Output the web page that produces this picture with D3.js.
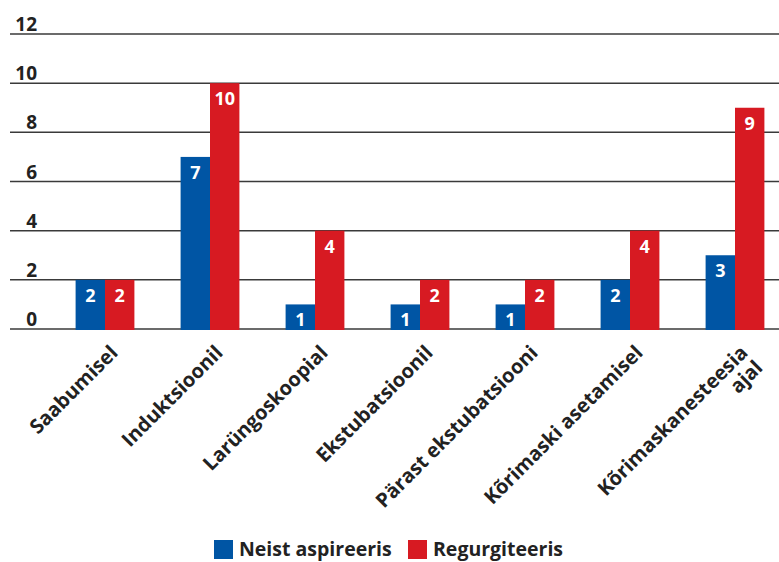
<!DOCTYPE html>
<html><head><meta charset="utf-8">
<script src="https://cdn.jsdelivr.net/npm/d3@7"></script>
<style>
html,body{margin:0;padding:0;background:#fff;}
svg{display:block;font-family:"Open Sans","Noto Sans",sans-serif;}
</style></head>
<body>
<script>
const categories = ["Saabumisel","Induktsioonil","Larüngoskoopial","Ekstubatsioonil","Pärast ekstubatsiooni","Kõrimaski asetamisel","Kõrimaskanesteesia ajal"];
const categoryLines = [["Saabumisel"],["Induktsioonil"],["Larüngoskoopial"],["Ekstubatsioonil"],["Pärast ekstubatsiooni"],["Kõrimaski asetamisel"],["Kõrimaskanesteesia","ajal"]];
const seriesNames = ["Neist aspireeris","Regurgiteeris"];
const aspireeris = [2,7,1,1,1,2,3];
const regurgiteeris = [2,10,4,2,2,4,9];
const yTicks = [0,2,4,6,8,10,12];
const colors = ["#0055a4","#d71a22"];

const W=779,H=562;
const svg=d3.select("body").append("svg").attr("width",W).attr("height",H);
const y=d3.scaleLinear().domain([0,12]).range([329,34]);
const x=d3.scaleBand().domain(categories).range([52.5,787.5]).paddingInner(0.44).paddingOuter(0.22);
const xs=d3.scaleBand().domain(seriesNames).range([0,x.bandwidth()]);

// gridlines
svg.append("g").selectAll("line").data(yTicks).join("line")
  .attr("x1",10).attr("x2",W).attr("y1",d=>y(d)).attr("y2",d=>y(d))
  .attr("stroke","#3a3a3a").attr("stroke-width",1.5);
svg.append("g").selectAll("text").data(yTicks).join("text")
  .attr("x",37).attr("y",d=>y(d)-3).attr("text-anchor","end")
  .attr("font-size",19).attr("font-weight",700).attr("fill","#222").text(d=>d);

const data=categories.map((c,i)=>({c,vals:[aspireeris[i],regurgiteeris[i]]}));
const g=svg.append("g").selectAll("g").data(data).join("g").attr("transform",d=>`translate(${x(d.c)},0)`);
g.selectAll("rect").data(d=>d.vals.map((v,j)=>({v,s:seriesNames[j],j}))).join("rect")
  .attr("x",d=>xs(d.s)).attr("width",xs.bandwidth()).attr("y",d=>y(d.v)).attr("height",d=>y(0)+1-y(d.v))
  .attr("fill",d=>colors[d.j]);
g.selectAll("text").data(d=>d.vals.map((v,j)=>({v,s:seriesNames[j],j}))).join("text")
  .attr("x",d=>xs(d.s)+xs.bandwidth()/2).attr("y",d=>y(d.v)+22).attr("text-anchor","middle")
  .attr("font-size",18).attr("font-weight",700).attr("fill","#fff").text(d=>d.v);

// x labels
const xl=svg.append("g").selectAll("text").data(categories).join("text")
  .attr("transform",(d)=>`translate(${x(d)+x.bandwidth()/2+14},${354}) rotate(-45)`)
  .attr("text-anchor","end").attr("font-size",20).attr("font-weight",700).attr("fill","#222");
xl.each(function(d,i){
  const t=d3.select(this);
  categoryLines[i].forEach((ln,k)=>t.append("tspan").attr("x",0).attr("dy",k?21:0).text(ln));
});

// legend
const lg=svg.append("g");
const items=[{n:seriesNames[0],c:colors[0],x:214},{n:seriesNames[1],c:colors[1],x:408}];
items.forEach(it=>{
  lg.append("rect").attr("x",it.x).attr("y",540).attr("width",19).attr("height",19).attr("fill",it.c);
  lg.append("text").attr("x",it.x+25).attr("y",556).attr("font-size",19.5).attr("font-weight",700).attr("fill","#222").text(it.n);
});
</script>
</body></html>
